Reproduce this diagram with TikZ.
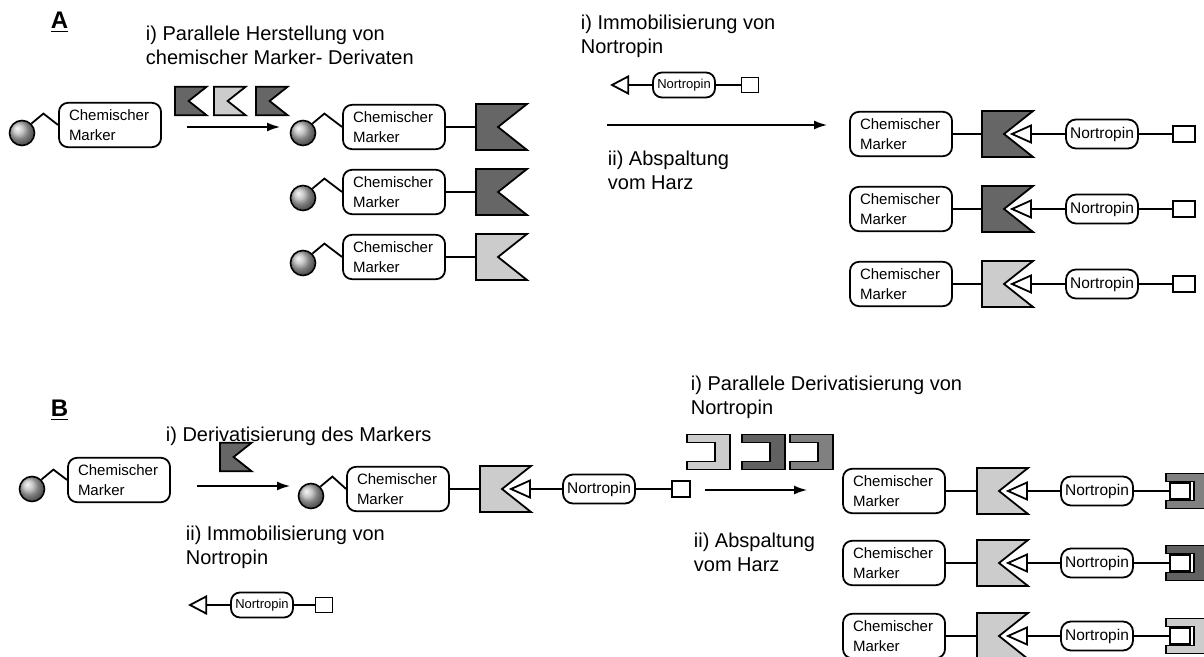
\documentclass[tikz,border=0pt]{standalone}
\usepackage{fontspec}
\setmainfont{Liberation Sans}
\usepackage{tikz}
\usetikzlibrary{arrows.meta,shapes}
\definecolor{flagdark}{rgb}{0.40,0.40,0.40}
\definecolor{flaglight}{rgb}{0.80,0.80,0.80}
\definecolor{clampmid}{rgb}{0.50,0.50,0.50}
\definecolor{clampdark}{rgb}{0.38,0.38,0.38}

\begin{document}
\begin{tikzpicture}[x=0.5pt,y=-0.5pt,line width=0.9pt]
\tikzset{
 bead/.style={circle,draw,line width=0.8pt,ball color=gray!55,minimum size=12.5pt,inner sep=0pt},
 marker/.style={draw,fill=white,rounded corners=4.5pt,text width=41pt,inner xsep=5pt,minimum height=21pt,align=left,font=\fontsize{7.5}{10}\selectfont},
 nortro/.style={draw,fill=white,rounded corners=5pt,minimum width=36pt,minimum height=14.5pt,inner sep=1pt,font=\fontsize{7.75}{9}\selectfont},
 smallnortro/.style={nortro,minimum width=31pt,minimum height=12.5pt,rounded corners=4.5pt,font=\fontsize{6.5}{8}\selectfont},
 anchorbox/.style={draw,fill=white,minimum width=11pt,minimum height=8pt,inner sep=0pt},
 caption/.style={anchor=north west,align=left,inner sep=0pt,font=\fontsize{10}{12}\selectfont},
 letter/.style={anchor=west,inner sep=0pt,font=\fontsize{12}{14}\selectfont\bfseries},
 rxn/.style={-{Latex[length=6.5pt,width=4.5pt]},line width=0.75pt},
 flagshape/.pic={\draw[fill=#1] (0,-23) -- (51,-23) -- (22,0) -- (51,23) -- (0,23) -- cycle;
   \coordinate (-w) at (0,0); \coordinate (-e) at (51,0);},
 headshape/.pic={\draw[fill=white] (0,0) -- (19,-8.5) -- (19,8.5) -- cycle;
   \coordinate (-tip) at (0,0); \coordinate (-e) at (19,0);},
 clampshape/.pic={\draw[fill=#1] (0,-17.5) -- (43,-17.5) -- (43,17.5) -- (0,17.5) -- (0,9.5) -- (28,9.5) -- (28,-9.5) -- (0,-9.5) -- cycle;}
}
\clip (0,0) rectangle (1204,657);

% A
\node (labA) at (50,22) [letter] {\underline{A}};
\node (capA1) at (145,25) [caption] {i) Parallele Herstellung von\\chemischer Marker- Derivaten};
\node (ma0) at (110,125) [marker] {Chemischer\\Marker};
\node (ba0) at (22,133) [bead] {};
\draw (ba0.45) -- ++(12,-10) -- (ma0.west);
\pic[scale=0.62] (sfa1) at (175,101) {flagshape=flagdark};
\pic[scale=0.62] (sfa2) at (214,101) {flagshape=flaglight};
\pic[scale=0.62] (sfa3) at (256,101) {flagshape=flagdark};
\coordinate (ra1s) at (187,127);
\coordinate (ra1e) at (280,127);
\draw[rxn] (ra1s) -- (ra1e);

\node (ma1) at (394,127) [marker] {Chemischer\\Marker};
\node (ba1) at (303,133) [bead] {};
\draw (ba1.45) -- ++(12,-10) -- (ma1.west);
\pic (fa1) at (476,127) {flagshape=flagdark};
\draw (ma1.east) -- (fa1-w);
\node (ma2) at (394,192) [marker] {Chemischer\\Marker};
\node (ba2) at (303,198) [bead] {};
\draw (ba2.45) -- ++(12,-10) -- (ma2.west);
\pic (fa2) at (476,192) {flagshape=flagdark};
\draw (ma2.east) -- (fa2-w);
\node (ma3) at (394,257) [marker] {Chemischer\\Marker};
\node (ba3) at (303,263) [bead] {};
\draw (ba3.45) -- ++(12,-10) -- (ma3.west);
\pic (fa3) at (476,257) {flagshape=flaglight};
\draw (ma3.east) -- (fa3-w);

\node (capA2) at (580,14) [caption] {i) Immobilisierung von\\Nortropin};
\pic[xscale=0.85] (ha0) at (612,85) {headshape};
\node (na0) at (684,85) [smallnortro] {Nortropin};
\node (qa0) at (750,85) [anchorbox,minimum width=8.5pt,minimum height=7.5pt] {};
\draw (ha0-e) -- (na0.west) (na0.east) -- (qa0.west);
\coordinate (ra2s) at (607,125);
\coordinate (ra2e) at (827,125);
\draw[rxn] (ra2s) -- (ra2e);
\node (capA3) at (607,150) [caption] {ii) Abspaltung\\vom Harz};

\node (mr1) at (901,134) [marker] {Chemischer\\Marker};
\pic (fr1) at (982,134) {flagshape=flagdark};
\pic (hr1) at (1012,134) {headshape};
\node (nr1) at (1102,134) [nortro] {Nortropin};
\node (qr1) at (1184,134) [anchorbox] {};
\draw (mr1.east) -- (fr1-w) (hr1-e) -- (nr1.west) (nr1.east) -- (qr1.west);
\node (mr2) at (901,209) [marker] {Chemischer\\Marker};
\pic (fr2) at (982,209) {flagshape=flagdark};
\pic (hr2) at (1012,209) {headshape};
\node (nr2) at (1102,209) [nortro] {Nortropin};
\node (qr2) at (1184,209) [anchorbox] {};
\draw (mr2.east) -- (fr2-w) (hr2-e) -- (nr2.west) (nr2.east) -- (qr2.west);
\node (mr3) at (901,284) [marker] {Chemischer\\Marker};
\pic (fr3) at (982,284) {flagshape=flaglight};
\pic (hr3) at (1012,284) {headshape};
\node (nr3) at (1102,284) [nortro] {Nortropin};
\node (qr3) at (1184,284) [anchorbox] {};
\draw (mr3.east) -- (fr3-w) (hr3-e) -- (nr3.west) (nr3.east) -- (qr3.west);

% B
\node (labB) at (50,410) [letter] {\underline{B}};
\node (capB1) at (165,426) [caption] {i) Derivatisierung des Markers};
\node (mb0) at (119,480) [marker] {Chemischer\\Marker};
\node (bb0) at (32,489) [bead] {};
\draw (bb0.45) -- ++(12,-10) -- (mb0.west);
\pic[scale=0.62] (sfb1) at (220,457) {flagshape=flagdark};
\coordinate (rb1s) at (197,486);
\coordinate (rb1e) at (290,486);
\draw[rxn] (rb1s) -- (rb1e);
\node (capB2) at (185,525) [caption] {ii) Immobilisierung von\\Nortropin};
\pic[xscale=0.85] (hb0) at (190,605) {headshape};
\node (nb0) at (262,605) [smallnortro] {Nortropin};
\node (qb0) at (324,605) [anchorbox,minimum width=8.5pt,minimum height=7.5pt] {};
\draw (hb0-e) -- (nb0.west) (nb0.east) -- (qb0.west);

\node (mb1) at (398,489) [marker] {Chemischer\\Marker};
\node (bb1) at (311,496) [bead] {};
\draw (bb1.45) -- ++(12,-10) -- (mb1.west);
\pic (fb1) at (480,489) {flagshape=flaglight};
\pic (hb1) at (511,489) {headshape};
\node (nb1) at (599,489) [nortro] {Nortropin};
\node (qb1) at (681,489) [anchorbox,minimum width=9pt] {};
\draw (mb1.east) -- (fb1-w) (hb1-e) -- (nb1.west) (nb1.east) -- (qb1.west);

\node (capB3) at (690,375) [caption] {i) Parallele Derivatisierung von\\Nortropin};
\pic (cb1) at (687,452) {clampshape=flaglight};
\pic (cb2) at (742,452) {clampshape=clampdark};
\pic (cb3) at (790,452) {clampshape=clampmid};
\coordinate (rb2s) at (705,490);
\coordinate (rb2e) at (807,490);
\draw[rxn] (rb2s) -- (rb2e);
\node (capB4) at (693,532) [caption] {ii) Abspaltung\\vom Harz};

\node (ms1) at (894,491) [marker] {Chemischer\\Marker};
\pic (fs1) at (977,491) {flagshape=flaglight};
\pic (hs1) at (1008,491) {headshape};
\node (ns1) at (1097,491) [nortro] {Nortropin};
\pic (cs1) at (1166,491) {clampshape=clampmid};
\node (qs1) at (1180,491) [anchorbox,minimum width=10pt] {};
\draw (ms1.east) -- (fs1-w) (hs1-e) -- (ns1.west) (ns1.east) -- (qs1.west);
\node (ms2) at (894,563) [marker] {Chemischer\\Marker};
\pic (fs2) at (977,563) {flagshape=flaglight};
\pic (hs2) at (1008,563) {headshape};
\node (ns2) at (1097,563) [nortro] {Nortropin};
\pic (cs2) at (1166,563) {clampshape=clampdark};
\node (qs2) at (1180,563) [anchorbox,minimum width=10pt] {};
\draw (ms2.east) -- (fs2-w) (hs2-e) -- (ns2.west) (ns2.east) -- (qs2.west);
\node (ms3) at (894,636) [marker] {Chemischer\\Marker};
\pic (fs3) at (977,636) {flagshape=flaglight};
\pic (hs3) at (1008,636) {headshape};
\node (ns3) at (1097,636) [nortro] {Nortropin};
\pic (cs3) at (1166,636) {clampshape=flaglight};
\node (qs3) at (1180,636) [anchorbox,minimum width=10pt] {};
\draw (ms3.east) -- (fs3-w) (hs3-e) -- (ns3.west) (ns3.east) -- (qs3.west);
\end{tikzpicture}
\end{document}
